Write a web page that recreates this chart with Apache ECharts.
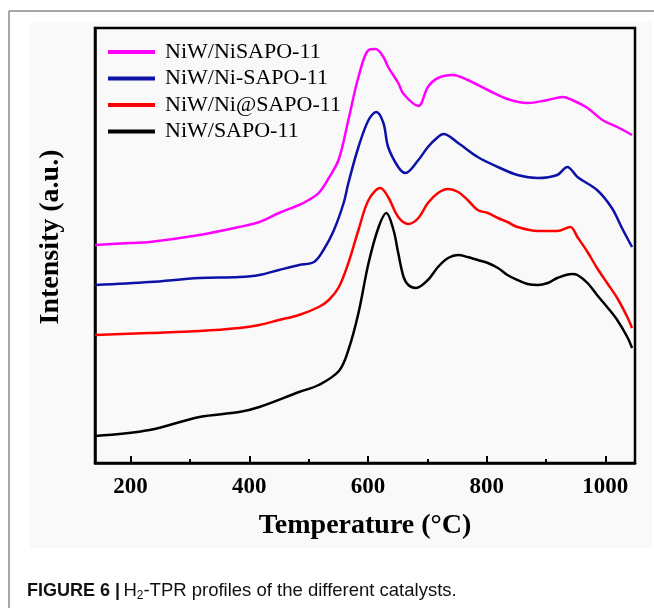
<!DOCTYPE html>
<html>
<head>
<meta charset="utf-8">
<script src="https://cdn.jsdelivr.net/npm/echarts@6/dist/echarts.min.js"></script>
<style>
  html, body { margin: 0; padding: 0; background: #fff; }
  #chart { width: 654px; height: 608px; }
</style>
</head>
<body>
<div id="chart"></div>
<script>
  // temperature (°C) and intensity (a.u.), one pair of arrays per catalyst
  var tempMagenta = [140, 199, 232, 316, 383, 417, 450, 484, 500, 517, 534, 551, 567, 584, 601, 613, 626, 634, 651, 660, 685, 701, 718, 743, 768, 802, 835, 869, 903, 928, 944, 970, 995, 1020, 1045];
  var intMagenta = [218, 220, 221, 228, 236, 241, 250, 258, 263, 270, 285, 304, 343, 386, 413, 414, 406, 396, 380, 369, 357, 376, 385, 388, 383, 373, 364, 360, 363, 366, 363, 355, 343, 336, 328];

  var tempBlue = [140, 232, 316, 383, 417, 450, 484, 509, 525, 542, 559, 567, 584, 601, 614, 626, 634, 651, 663, 685, 701, 718, 727, 752, 785, 819, 852, 886, 919, 936, 953, 986, 1011, 1028, 1045];
  var intBlue = [178, 181, 185, 186, 188, 193, 198, 201, 213, 232, 260, 280, 316, 343, 351, 340, 316, 296, 290, 303, 316, 326, 329, 320, 306, 296, 288, 285, 288, 296, 286, 273, 255, 235, 216];

  var tempRed = [140, 232, 316, 383, 417, 450, 484, 517, 534, 551, 567, 584, 601, 621, 634, 651, 668, 685, 701, 718, 735, 752, 768, 785, 802, 819, 835, 852, 886, 919, 941, 953, 970, 986, 1003, 1020, 1037, 1045];
  var intRed = [128, 130, 132, 135, 138, 143, 148, 156, 163, 176, 200, 233, 263, 275, 266, 246, 239, 245, 260, 270, 274, 271, 263, 253, 250, 245, 241, 236, 232, 232, 236, 226, 211, 195, 180, 165, 146, 135];

  var tempBlack = [140, 232, 316, 383, 417, 484, 517, 551, 567, 584, 601, 618, 631, 643, 651, 660, 668, 681, 701, 718, 735, 752, 768, 785, 802, 819, 835, 852, 869, 886, 903, 919, 944, 953, 970, 986, 1003, 1020, 1037, 1045];
  var intBlack = [27, 33, 46, 51, 56, 71, 78, 92, 113, 150, 200, 236, 250, 233, 210, 186, 178, 175, 183, 196, 205, 208, 206, 203, 200, 195, 188, 183, 179, 178, 180, 185, 189, 188, 180, 168, 156, 143, 126, 115];

  var seriesNames = ['NiW/NiSAPO-11', 'NiW/Ni-SAPO-11', 'NiW/Ni@SAPO-11', 'NiW/SAPO-11'];
  var seriesColors = ['#ff00ff', '#0c12a6', '#ff0000', '#000000'];
  var majorTicks = [200, 400, 600, 800, 1000];
  var minorTicks = [300, 500, 700, 900];

  function pairs(xs, ys) {
    return xs.map(function (x, i) { return [x, ys[i]]; });
  }

  var allData = [
    pairs(tempMagenta, intMagenta),
    pairs(tempBlue, intBlue),
    pairs(tempRed, intRed),
    pairs(tempBlack, intBlack)
  ];

  var serif = '"Liberation Serif", "Times New Roman", serif';
  var sans = '"Liberation Sans", Arial, sans-serif';

  var chart = echarts.init(document.getElementById('chart'));
  chart.setOption({
    backgroundColor: '#fff',
    animation: false,
    grid: {
      left: 95, right: 19, top: 28, bottom: 145,
      show: true, borderColor: '#000', borderWidth: 2.5
    },
    legend: {
      orient: 'vertical',
      left: 103, top: 36,
      itemWidth: 47, itemHeight: 4,
      itemGap: 4.5,
      icon: 'rect',
      data: seriesNames,
      textStyle: { fontFamily: serif, fontSize: 22, color: '#000', lineHeight: 22, padding: [0, 0, 0, 5] }
    },
    xAxis: [{
      type: 'value',
      min: 140, max: 1050,
      name: 'Temperature (°C)',
      nameLocation: 'middle',
      nameGap: 49,
      nameTextStyle: { fontFamily: serif, fontSize: 28, fontWeight: 'bold', color: '#000' },
      axisLine: { show: true, lineStyle: { color: '#000', width: 2.5 } },
      axisTick: { show: true, inside: true, length: 7, lineStyle: { color: '#000', width: 2 }, customValues: majorTicks },
      axisLabel: {
        fontFamily: serif, fontSize: 23, fontWeight: 'bold', color: '#000', margin: 13,
        customValues: majorTicks,
        formatter: function (v) { return String(v); }
      },
      splitLine: { show: false }
    }, {
      type: 'value',
      min: 140, max: 1050,
      position: 'bottom',
      axisLine: { show: false },
      axisTick: { show: true, inside: true, length: 4, lineStyle: { color: '#000', width: 2 }, customValues: minorTicks },
      axisLabel: { show: false },
      splitLine: { show: false }
    }],
    yAxis: {
      type: 'value',
      min: 0, max: 435,
      axisLine: { show: true, lineStyle: { color: '#000', width: 2.5 } },
      axisTick: { show: false },
      axisLabel: { show: false },
      splitLine: { show: false }
    },
    series: seriesNames.map(function (name, i) {
      return {
        name: name,
        type: 'line',
        data: allData[i],
        smooth: 0.35,
        showSymbol: false,
        symbol: 'none',
        itemStyle: { color: seriesColors[i] },
        lineStyle: { color: seriesColors[i], width: 2.5 }
      };
    }),
    graphic: [
      { type: 'rect', z: -10, silent: true, shape: { x: 30, y: 22, width: 622, height: 526 }, style: { fill: '#f9f9f9' } },
      { type: 'line', silent: true, shape: { x1: 9, y1: 11, x2: 654, y2: 11 }, style: { stroke: '#8a8a8a', lineWidth: 1.5 } },
      { type: 'line', silent: true, shape: { x1: 9, y1: 11, x2: 9, y2: 608 }, style: { stroke: '#8a8a8a', lineWidth: 1.5 } },
      {
        // y-axis title, placed by hand because it sits a little above the plot's centre
        type: 'text', x: 51, y: 237, rotation: Math.PI / 2,
        style: {
          text: 'Intensity (a.u.)',
          fontFamily: serif, fontSize: 28, fontWeight: 'bold', fill: '#000',
          align: 'center', verticalAlign: 'middle'
        }
      },
      {
        type: 'text', x: 27, y: 591,
        style: {
          text: '{b|FIGURE 6 |} {n|H}{s|2}{n|-TPR profiles of the different catalysts.}',
          verticalAlign: 'middle',
          rich: {
            b: { fontFamily: sans, fontSize: 18, fontWeight: 'bold', fill: '#111' },
            n: { fontFamily: sans, fontSize: 18.5, fill: '#111' },
            s: { fontFamily: sans, fontSize: 12, fill: '#111', padding: [9, 0, 0, 0] }
          }
        }
      }
    ]
  });
</script>
</body>
</html>
